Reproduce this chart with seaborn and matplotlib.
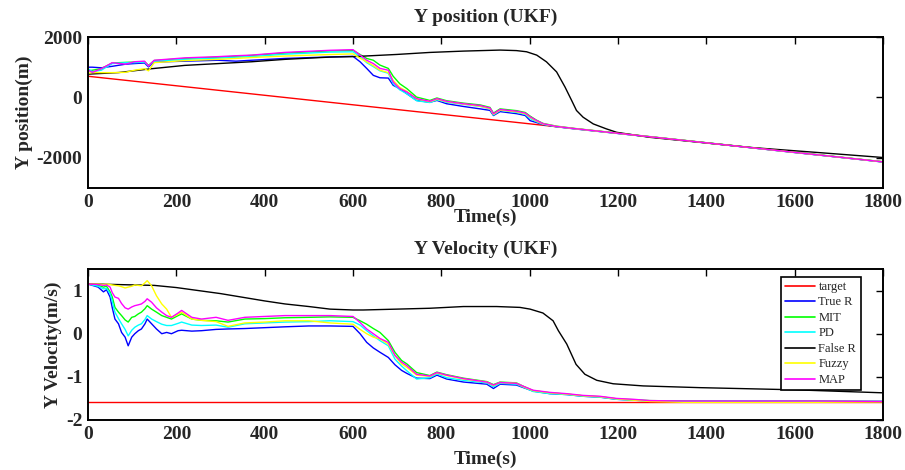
import matplotlib
matplotlib.use("Agg")
import matplotlib.pyplot as plt
import seaborn as sns
import pandas as pd

# ---------------- data ----------------
series_names = ["target", "True R", "MIT", "PD", "False R", "Fuzzy", "MAP"]
series_colors = ["#FF0000", "#0000FF", "#00FF00", "#00FFFF", "#000000", "#FFFF00", "#FF00FF"]

x_ticks = [0, 200, 400, 600, 800, 1000, 1200, 1400, 1600, 1800]
pos_yticks = [-2000, 0, 2000]
vel_yticks = [-2, -1, 0, 1]

# target (constant velocity)
t_target = [0, 1800]
target_pos = [700, -2135]
target_vel = [-1.575, -1.575]

# False R
t_false_pos = [0, 69, 144, 219, 295, 370, 446, 548, 600, 699, 774, 850, 933, 970, 993, 1016, 1038,
               1061, 1080, 1095, 1106, 1121, 1144, 1174, 1197, 1272, 1348, 1499, 1650, 1800]
false_pos = [770, 822, 950, 1060, 1120, 1180, 1260, 1335, 1350, 1422, 1489, 1533, 1567, 1550, 1511, 1400, 1178,
             844, 344, -100, -433, -656, -878, -1044, -1156, -1322, -1433, -1656, -1822, -1990]

t_false_vel = [0, 150, 200, 300, 400, 446, 500, 548, 600, 623, 699, 774, 850, 925, 978, 1001, 1030,
               1053, 1065, 1084, 1105, 1125, 1152, 1189, 1257, 1385, 1600, 1800]
false_vel = [1.155, 1.12, 1.07, 0.93, 0.76, 0.69, 0.63, 0.57, 0.55, 0.55, 0.57, 0.59, 0.63, 0.63, 0.61, 0.57, 0.48,
             0.30, 0.07, -0.24, -0.71, -0.94, -1.08, -1.16, -1.21, -1.25, -1.30, -1.37]

# filters, position panel
t_pos = [0, 10, 30, 55, 85, 105, 128, 137, 150, 220, 295, 335, 370, 446, 548, 600, 616, 631, 646, 661,
         680, 691, 706, 722, 744, 774, 790, 812, 850, 888, 910, 918, 933, 971, 990, 1001, 1015, 1030,
         1060, 1100, 1200, 1300, 1400, 1500, 1600, 1700, 1800]
true_pos = [1000, 1000, 980, 1030, 1100, 1120, 1140, 1010, 1170, 1200, 1230, 1200, 1230, 1290, 1340, 1360,
            1180, 960, 730, 650, 640, 400, 290, 120, -100, -160, -100, -210, -300, -380, -430, -600, -470,
            -540, -600, -770, -830, -900, -970, -1040, -1195, -1350, -1505, -1665, -1825, -1980, -2140]
mit_pos = [880, 900, 950, 1140, 1160, 1170, 1180, 1060, 1220, 1290, 1330, 1360, 1390, 1470, 1540, 1560,
           1420, 1290, 1230, 1070, 960, 700, 450, 290, 10, -100, -20, -110, -190, -250, -330, -520, -380,
           -440, -500, -620, -750, -860, -950, -1025, -1185, -1342, -1500, -1657, -1815, -1972, -2130]
pd_pos = [950, 850, 900, 1120, 1150, 1150, 1170, 1040, 1200, 1260, 1300, 1330, 1350, 1430, 1500, 1510,
          1350, 1150, 1020, 880, 800, 450, 250, 120, -110, -170, -80, -160, -230, -300, -380, -580, -430,
          -500, -560, -700, -800, -890, -965, -1035, -1192, -1349, -1507, -1664, -1822, -1979, -2137]
fuzzy_pos = [800, 820, 820, 820, 830, 900, 950, 880, 1150, 1220, 1260, 1290, 1320, 1370, 1420, 1440,
             1300, 1180, 1050, 900, 820, 560, 330, 200, -50, -140, -60, -140, -220, -290, -370, -560, -420,
             -480, -540, -660, -780, -880, -960, -1032, -1190, -1347, -1505, -1662, -1820, -1977, -2135]
map_pos = [900, 830, 950, 1150, 1100, 1180, 1200, 1040, 1230, 1310, 1350, 1380, 1400, 1490, 1560, 1580,
           1400, 1230, 1120, 960, 900, 510, 290, 180, -40, -130, -40, -130, -210, -270, -350, -540, -400,
           -460, -520, -640, -760, -870, -960, -1030, -1190, -1347, -1505, -1662, -1820, -1977, -2135]

# filters, velocity panel
t_vel = [0, 23, 35, 42, 50, 55, 61, 69, 76, 84, 91, 99, 106, 114, 121, 129, 134, 144, 155, 167, 178, 189,
         204, 212, 235, 257, 290, 317, 355, 400, 446, 500, 548, 600, 616, 631, 646, 661, 680, 695, 710, 722,
         744, 774, 790, 812, 850, 903, 918, 933, 970, 986, 1008, 1046, 1084, 1121, 1159, 1197, 1235, 1272,
         1350, 1500, 1650, 1800]
true_vel = [1.15, 1.08, 0.97, 1.02, 0.85, 0.6, 0.34, 0.23, 0.03, -0.08, -0.28, -0.08, 0.0, 0.07, 0.11, 0.23,
            0.34, 0.23, 0.11, 0.0, 0.03, 0.0, 0.07, 0.08, 0.06, 0.07, 0.1, 0.11, 0.12, 0.14, 0.16, 0.18, 0.18,
            0.17, 0.0, -0.2, -0.33, -0.43, -0.55, -0.72, -0.85, -0.92, -1.03, -1.04, -0.96, -1.05, -1.12,
            -1.17, -1.27, -1.17, -1.19, -1.25, -1.33, -1.39, -1.41, -1.45, -1.47, -1.52, -1.54, -1.56, -1.57,
            -1.57, -1.57, -1.57]
mit_vel = [1.15, 1.12, 1.08, 1.1, 0.97, 0.85, 0.61, 0.5, 0.42, 0.32, 0.27, 0.38, 0.4, 0.46, 0.5, 0.58, 0.65,
           0.57, 0.5, 0.42, 0.38, 0.34, 0.42, 0.46, 0.34, 0.31, 0.3, 0.27, 0.34, 0.35, 0.37, 0.38, 0.39, 0.38,
           0.3, 0.22, 0.12, 0.03, -0.16, -0.43, -0.62, -0.7, -0.9, -0.97, -0.89, -0.95, -1.03, -1.11, -1.18,
           -1.12, -1.14, -1.22, -1.32, -1.37, -1.40, -1.44, -1.46, -1.51, -1.53, -1.55, -1.56, -1.56, -1.56,
           -1.57]
pd_vel = [1.15, 1.1, 1.04, 1.05, 0.93, 0.75, 0.5, 0.35, 0.23, 0.1, -0.05, 0.08, 0.15, 0.2, 0.23, 0.33, 0.42,
          0.34, 0.28, 0.22, 0.19, 0.19, 0.24, 0.27, 0.2, 0.19, 0.2, 0.15, 0.23, 0.25, 0.27, 0.28, 0.3, 0.28,
          0.2, 0.07, -0.05, -0.16, -0.28, -0.59, -0.75, -0.86, -1.05, -1.02, -0.93, -1.02, -1.08, -1.14,
          -1.23, -1.15, -1.17, -1.24, -1.34, -1.39, -1.41, -1.45, -1.47, -1.52, -1.54, -1.56, -1.57, -1.56,
          -1.57, -1.57]
fuzzy_vel = [1.15, 1.15, 1.14, 1.15, 1.14, 1.13, 1.12, 1.11, 1.09, 1.06, 1.08, 1.1, 1.13, 1.12, 1.11, 1.18,
             1.23, 1.11, 0.88, 0.69, 0.57, 0.38, 0.45, 0.5, 0.34, 0.31, 0.28, 0.17, 0.25, 0.27, 0.3, 0.3, 0.25,
             0.22, 0.1, 0.0, -0.08, -0.12, -0.24, -0.51, -0.7, -0.78, -0.96, -0.99, -0.91, -0.97, -1.05,
             -1.12, -1.2, -1.13, -1.15, -1.23, -1.32, -1.37, -1.40, -1.44, -1.46, -1.51, -1.54, -1.57, -1.59,
             -1.59, -1.59, -1.58]
map_vel = [1.15, 1.14, 1.12, 1.13, 1.08, 0.95, 0.85, 0.82, 0.7, 0.6, 0.57, 0.62, 0.65, 0.67, 0.69, 0.75,
           0.81, 0.73, 0.6, 0.5, 0.42, 0.38, 0.48, 0.54, 0.38, 0.34, 0.38, 0.31, 0.38, 0.4, 0.42, 0.42, 0.42,
           0.4, 0.26, 0.11, 0.0, -0.11, -0.2, -0.5, -0.66, -0.74, -0.94, -0.98, -0.90, -0.96, -1.04, -1.12,
           -1.19, -1.13, -1.15, -1.22, -1.31, -1.36, -1.39, -1.43, -1.45, -1.50, -1.52, -1.55, -1.56, -1.56,
           -1.56, -1.57]

# ---------------- build tables ----------------
def build(parts):
    frames = []
    for name, t, v in parts:
        frames.append(pd.DataFrame({"t": t, "v": v, "series": name}))
    return pd.concat(frames, ignore_index=True)

df_pos = build([("target", t_target, target_pos), ("True R", t_pos, true_pos), ("MIT", t_pos, mit_pos),
                ("PD", t_pos, pd_pos), ("False R", t_false_pos, false_pos), ("Fuzzy", t_pos, fuzzy_pos),
                ("MAP", t_pos, map_pos)])
df_vel = build([("target", t_target, target_vel), ("True R", t_vel, true_vel), ("MIT", t_vel, mit_vel),
                ("PD", t_vel, pd_vel), ("False R", t_false_vel, false_vel), ("Fuzzy", t_vel, fuzzy_vel),
                ("MAP", t_vel, map_vel)])

# ---------------- style ----------------
sns.set_style("white")
plt.rcParams["font.family"] = ["Liberation Serif", "DejaVu Serif"]
plt.rcParams["axes.unicode_minus"] = False

FS = 14
palette = dict(zip(series_names, series_colors))

fig = plt.figure(figsize=(9.05, 4.7), dpi=100)
W, H = 905, 470
ax1 = fig.add_axes([88 / W, 1 - 188 / H, 795 / W, 151 / H])
ax2 = fig.add_axes([88 / W, 1 - 420 / H, 795 / W, 151 / H])

for ax, df in ((ax1, df_pos), (ax2, df_vel)):
    sns.lineplot(data=df, x="t", y="v", hue="series", hue_order=series_names, palette=palette,
                 estimator=None, sort=False, linewidth=1.0, ax=ax, legend=(ax is ax2))

ax1.set_xlim(0, 1800)
ax1.set_ylim(-3000, 2000)
ax1.set_yticks(pos_yticks)
ax2.set_xlim(0, 1800)
ax2.set_ylim(-2, 1.5)
ax2.set_yticks(vel_yticks)

for ax in (ax1, ax2):
    ax.set_xticks(x_ticks)
    ax.tick_params(direction="in", top=True, right=True, length=5, width=1, color="black",
                   labelsize=FS, pad=4)
    for lab in ax.get_xticklabels() + ax.get_yticklabels():
        lab.set_fontweight("bold")
    for sp in ax.spines.values():
        sp.set_linewidth(1.4)
        sp.set_color("black")

ax1.set_xlabel("Time(s)", fontsize=FS, fontweight="bold", labelpad=-1)
ax2.set_xlabel("Time(s)", fontsize=FS, fontweight="bold", labelpad=6)
ax1.set_title("Y position (UKF)", fontsize=FS, fontweight="bold", pad=11)
ax2.set_title("Y Velocity (UKF)", fontsize=FS, fontweight="bold", pad=11)
ax1.set_ylabel("Y position(m)", fontsize=FS, fontweight="bold", labelpad=3)
ax2.set_ylabel("Y Velocity(m/s)", fontsize=FS, fontweight="bold", labelpad=3)

handles, labels = ax2.get_legend_handles_labels()
leg = ax2.legend(handles, labels, loc="upper right", bbox_to_anchor=(0.972, 0.95), fontsize=9,
                 frameon=True, fancybox=False, edgecolor="black", framealpha=1, labelspacing=0.28,
                 handlelength=2.4, handletextpad=0.25, borderpad=0.35, borderaxespad=0)
leg.get_frame().set_linewidth(1.2)
for line in leg.get_lines():
    line.set_linewidth(1.2)

fig.savefig("out.png", dpi=100)
